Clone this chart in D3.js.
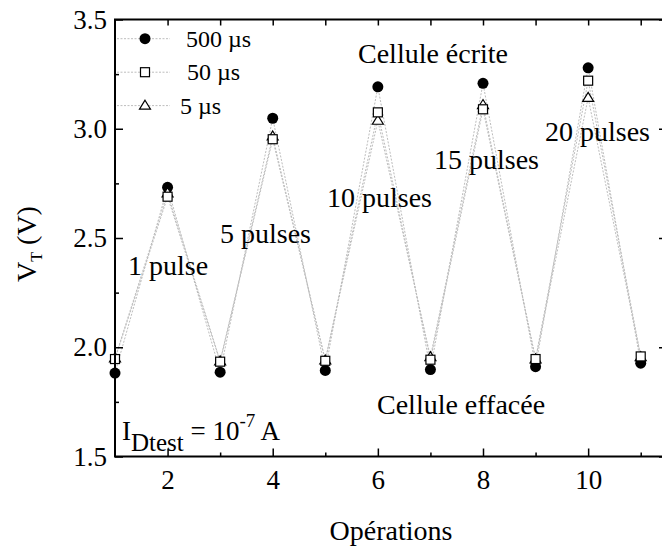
<!DOCTYPE html>
<html>
<head>
<meta charset="utf-8">
<script src="https://cdn.jsdelivr.net/npm/d3@7"></script>
<style>
  html, body { margin: 0; padding: 0; background: #fff; }
  svg { display: block; }
  text { font-family: "Liberation Serif", "Times New Roman", serif; fill: #000; }
</style>
</head>
<body>
<svg id="chart" width="662" height="549"></svg>
<script>
// ---- data ----
const operations = [1, 2, 3, 4, 5, 6, 7, 8, 9, 10, 11];
const vt500us = [1.882, 2.732, 1.886, 3.048, 1.894, 3.192, 1.898, 3.208, 1.911, 3.279, 1.927];
const vt50us  = [1.946, 2.689, 1.934, 2.952, 1.938, 3.075, 1.943, 3.089, 1.946, 3.220, 1.958];
const vt5us   = [1.950, 2.705, 1.936, 2.965, 1.940, 3.037, 1.955, 3.109, 1.945, 3.142, 1.955];
const seriesNames = ["500 µs", "50 µs", "5 µs"];
const xTickValues = [2, 4, 6, 8, 10];
const xMinorTicks = [3, 5, 7, 9, 11];
const yTickValues = [1.5, 2.0, 2.5, 3.0, 3.5];
const yMinorTicks = [1.75, 2.25, 2.75, 3.25];
const annotations = [
  { text: "Cellule écrite", x: 358, y: 63 },
  { text: "1 pulse", x: 128, y: 275 },
  { text: "5 pulses", x: 220, y: 243 },
  { text: "10 pulses", x: 327, y: 207 },
  { text: "15 pulses", x: 434, y: 169 },
  { text: "20 pulses", x: 545, y: 141 },
  { text: "Cellule effacée", x: 377, y: 414 }
];

// ---- layout ----
const svg = d3.select("#chart");
const L = 115, R = 667, T = 19.5, B = 456.5;
const x = d3.scaleLinear().domain([1, 11.5]).range([L, R]);
const y = d3.scaleLinear().domain([1.5, 3.5]).range([B, T]);

const series = [
  { name: seriesNames[0], values: vt500us, shape: "circle" },
  { name: seriesNames[1], values: vt50us, shape: "square" },
  { name: seriesNames[2], values: vt5us, shape: "triangle" }
];

function drawMarker(g, shape, cx, cy) {
  if (shape === "circle") {
    g.append("circle").attr("cx", cx).attr("cy", cy).attr("r", 5.5).attr("fill", "#000");
  } else if (shape === "square") {
    g.append("rect").attr("x", cx - 4.5).attr("y", cy - 4.5).attr("width", 9).attr("height", 9)
      .attr("fill", "#fff").attr("stroke", "#000").attr("stroke-width", 1.2);
  } else {
    const h = 9, w = 11;
    g.append("path").attr("d", `M${cx},${cy - h * 0.6} L${cx + w / 2},${cy + h * 0.4} L${cx - w / 2},${cy + h * 0.4} Z`)
      .attr("fill", "#fff").attr("stroke", "#000").attr("stroke-width", 1.2);
  }
}

// dotted lines
const line = d3.line().x((d, i) => x(operations[i])).y(d => y(d));
series.forEach(s => {
  svg.append("path").datum(s.values).attr("d", line)
    .attr("fill", "none").attr("stroke", "#bdbdbd").attr("stroke-width", 1)
    .attr("stroke-dasharray", "2,1.5");
});

// markers
const mg = svg.append("g");
["circle", "triangle", "square"].forEach(shape => {
  const s = series.find(d => d.shape === shape);
  s.values.forEach((v, i) => drawMarker(mg, shape, x(operations[i]), y(v)));
});

// axes (inward ticks)
const axFont = "27px";
const gx = svg.append("g").attr("transform", `translate(0,${B})`)
  .call(d3.axisBottom(x).tickValues(xTickValues).tickFormat(d3.format("d")).tickSizeInner(-8).tickSizeOuter(0).tickPadding(13));
gx.selectAll("text").style("font-size", axFont).attr("dy", "0.71em");
svg.append("g").attr("transform", `translate(0,${B})`)
  .call(d3.axisBottom(x).tickValues(xMinorTicks).tickFormat("").tickSizeInner(-4).tickSizeOuter(0));

const gy = svg.append("g").attr("transform", `translate(${L},0)`)
  .call(d3.axisLeft(y).tickValues(yTickValues).tickFormat(d3.format(".1f")).tickSizeInner(-8).tickSizeOuter(0).tickPadding(8));
gy.selectAll("text").style("font-size", axFont);
svg.append("g").attr("transform", `translate(${L},0)`)
  .call(d3.axisLeft(y).tickValues(yMinorTicks).tickFormat("").tickSizeInner(-4).tickSizeOuter(0));

svg.append("g").attr("transform", `translate(0,${T})`)
  .call(d3.axisTop(x).tickValues([2,3,4,5,6,7,8,9,10,11]).tickFormat("").tickSizeInner(-6).tickSizeOuter(0));
svg.append("g").attr("transform", `translate(${R},0)`)
  .call(d3.axisRight(y).tickValues(yTickValues).tickFormat("").tickSizeInner(-8).tickSizeOuter(0));
svg.append("g").attr("transform", `translate(${R},0)`)
  .call(d3.axisRight(y).tickValues(yMinorTicks).tickFormat("").tickSizeInner(-4).tickSizeOuter(0));

svg.selectAll(".domain").remove();
svg.selectAll(".tick line").attr("stroke", "#000").attr("stroke-width", 1.5);

// frame
svg.append("rect").attr("x", L).attr("y", T).attr("width", R - L).attr("height", B - T)
  .attr("fill", "none").attr("stroke", "#000").attr("stroke-width", 2);

// axis titles
svg.append("text").attr("x", (L + R) / 2).attr("y", 540).attr("text-anchor", "middle")
  .style("font-size", "28px").text("Opérations");
const yt = svg.append("text").attr("transform", "translate(36,244) rotate(-90)")
  .attr("text-anchor", "middle").style("font-size", "28px");
yt.append("tspan").text("V");
yt.append("tspan").attr("dy", 6).style("font-size", "16px").text("T");
yt.append("tspan").attr("dy", -6).text(" (V)");

// annotations
annotations.forEach(a => {
  svg.append("text").attr("x", a.x).attr("y", a.y).style("font-size", "28px").text(a.text);
});
const it = svg.append("text").attr("x", 122).attr("y", 440).style("font-size", "27px");
it.append("tspan").text("I");
it.append("tspan").attr("dy", 11).style("font-size", "25px").text("Dtest");
it.append("tspan").attr("dy", -11).text(" = 10");
it.append("tspan").attr("dy", -13).style("font-size", "19px").text("-7");
it.append("tspan").attr("dy", 13).text(" A");

// legend
const legendRows = [38.7, 72.2, 105.6];
const legendTextX = [186, 187, 180];
series.forEach((s, i) => {
  const ly = legendRows[i];
  svg.append("line").attr("x1", 117).attr("x2", 170).attr("y1", ly).attr("y2", ly)
    .attr("stroke", "#bdbdbd").attr("stroke-width", 1).attr("stroke-dasharray", "2,1.5");
  drawMarker(svg, s.shape, 145, ly);
  svg.append("text").attr("x", legendTextX[i]).attr("y", ly + 8).style("font-size", "24px").text(s.name);
});
</script>
</body>
</html>
